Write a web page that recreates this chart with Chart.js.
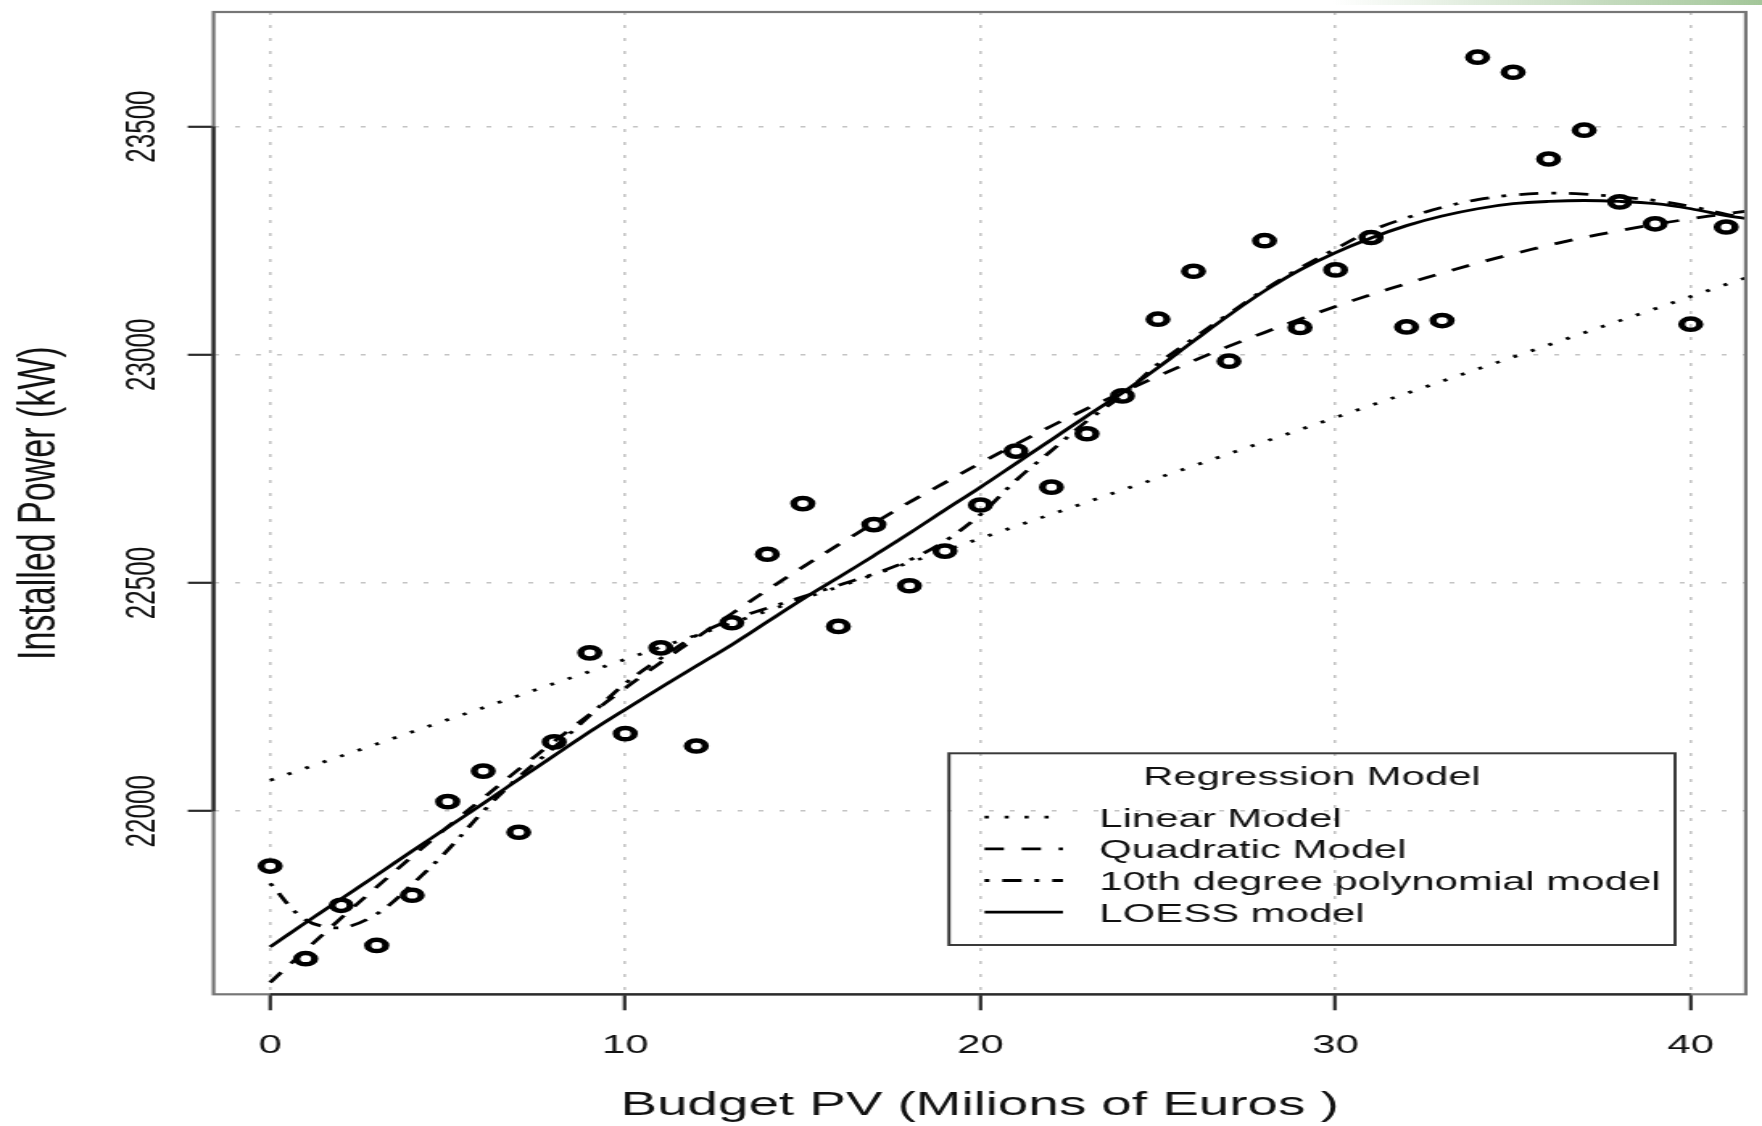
<!DOCTYPE html>
<html>
<head>
<meta charset="utf-8">
<title>Installed Power vs Budget PV</title>
<script src="https://cdn.jsdelivr.net/npm/chart.js@4.4.1/dist/chart.umd.min.js"></script>
<style>
  html, body { margin: 0; padding: 0; background: #ffffff; overflow: hidden; }
  /* the chart is drawn on a narrow canvas and widened horizontally */
  #stage { position: absolute; left: 0; top: 0; width: 1094px; height: 1126px;
           transform-origin: 0 0; transform: scaleX(1.6106); }
  #stage canvas { display: block; }
  .band { position: absolute; top: 0; right: 0; width: 430px; height: 5px;
          background: linear-gradient(to right, rgba(255,255,255,0), #a3c699); }
</style>
</head>
<body>
<div id="stage"><canvas id="chart" width="1094" height="1126" style="width:1094px;height:1126px"></canvas></div>
<div class="band"></div>
<script>
// Observations: budget (millions of euros) and installed power (kW)
const budget = [0, 1, 2, 3, 4, 5, 6, 7, 8, 9, 10, 11, 12, 13, 14, 15, 16, 17, 18, 19, 20,
                21, 22, 23, 24, 25, 26, 27, 28, 29, 30, 31, 32, 33, 34, 35, 36, 37, 38, 39, 40, 41];
const installedPower = [21880, 21677, 21794, 21706, 21816, 22021, 22088, 21954, 22152, 22347, 22170,
                        22358, 22143, 22413, 22563, 22674, 22405, 22628, 22494, 22570, 22671,
                        22789, 22710, 22827, 22910, 23078, 23183, 22986, 23250, 23060, 23186,
                        23257, 23061, 23075, 23652, 23619, 23429, 23492, 23335, 23287, 23067, 23280];

// Fitted regression curves, sampled along the budget axis
const linearX = [0, 41.6];
const linearModel = [22068, 23170];

const curveX = [0, 1, 2, 3, 4, 5, 6, 7, 8, 9, 10, 11, 12, 13, 14, 15, 16, 17, 18, 19, 20,
                21, 22, 23, 24, 25, 26, 27, 28, 29, 30, 31, 32, 33, 34, 35, 36, 37, 38, 39, 40, 41, 41.6];
const quadraticModel = [21625, 21696, 21766, 21834, 21901, 21966, 22029, 22092, 22153, 22212, 22270,
                        22326, 22380, 22433, 22485, 22535, 22584, 22631, 22677, 22720, 22763,
                        22804, 22844, 22882, 22918, 22953, 22987, 23019, 23049, 23078, 23106,
                        23132, 23156, 23179, 23201, 23221, 23240, 23257, 23272, 23286, 23298, 23309, 23315];
const poly10Model = [21842, 21762, 21745, 21775, 21840, 21915, 22000, 22075, 22140, 22210, 22280,
                     22335, 22385, 22420, 22445, 22470, 22495, 22520, 22550, 22592, 22650,
                     22725, 22790, 22855, 22912, 22980, 23036, 23090, 23143, 23190, 23232,
                     23272, 23300, 23323, 23340, 23350, 23354, 23352, 23346, 23338, 23325, 23308, 23300];
const loessModel = [21703, 21756, 21808, 21860, 21913, 21965, 22017, 22070, 22122, 22174, 22223,
                    22271, 22318, 22365, 22415, 22465, 22512, 22560, 22609, 22660, 22710,
                    22762, 22814, 22866, 22917, 22972, 23030, 23087, 23140, 23186, 23224,
                    23256, 23283, 23304, 23320, 23331, 23336, 23338, 23336, 23331, 23320, 23305, 23298];

// Axes
const xTicks = [0, 10, 20, 30, 40];
const xTickLabels = ['0', '10', '20', '30', '40'];
const yTicks = [22000, 22500, 23000, 23500];
const yTickLabels = ['22000', '22500', '23000', '23500'];
const xTitle = 'Budget PV (Milions of Euros )';
const yTitle = 'Installed Power (kW)';

// Legend
const legendTitle = 'Regression Model';
const modelNames = ['Linear Model', 'Quadratic Model', '10th degree polynomial model', 'LOESS model'];

const FONT = '"Liberation Sans", Arial, Helvetica, sans-serif';
Chart.defaults.font.family = FONT;
Chart.defaults.color = '#111';

const pairs = (xs, ys) => xs.map((x, i) => ({ x: x, y: ys[i] }));

const curveStyle = (dash) => ({
  type: 'line', showLine: true, pointRadius: 0, pointHoverRadius: 0,
  borderColor: '#000', borderWidth: 2.8, borderDash: dash, tension: 0.35,
  fill: false, borderCapStyle: 'butt', order: 1
});

const datasets = [
  Object.assign({ label: modelNames[0], data: pairs(linearX, linearModel) }, curveStyle([2.6, 9.8]), { tension: 0 }),
  Object.assign({ label: modelNames[1], data: pairs(curveX, quadraticModel) }, curveStyle([12, 11])),
  Object.assign({ label: modelNames[2], data: pairs(curveX, poly10Model) }, curveStyle([3, 8, 12, 8])),
  Object.assign({ label: modelNames[3], data: pairs(curveX, loessModel) }, curveStyle([])),
  {
    type: 'scatter', label: 'observed', data: pairs(budget, installedPower),
    pointStyle: 'circle', pointRadius: 5.6, pointBorderWidth: 4.5,
    borderColor: '#000', backgroundColor: 'rgba(0,0,0,0)', showLine: false, order: 2
  }
];

// Box, axis lines, vertical y labels and the legend box
const decor = {
  id: 'decor',
  afterDraw(chart) {
    const { ctx, chartArea: a, scales: { x, y } } = chart;
    ctx.save();
    ctx.setLineDash([]);
    ctx.strokeStyle = '#767676';
    ctx.lineWidth = 2.2;
    ctx.strokeRect(a.left, a.top, a.right - a.left, a.bottom - a.top);

    ctx.strokeStyle = '#2b2b2b';
    ctx.beginPath();
    ctx.moveTo(x.getPixelForValue(xTicks[0]), a.bottom);
    ctx.lineTo(x.getPixelForValue(xTicks[xTicks.length - 1]), a.bottom);
    ctx.moveTo(a.left, y.getPixelForValue(yTicks[0]));
    ctx.lineTo(a.left, y.getPixelForValue(yTicks[yTicks.length - 1]));
    ctx.stroke();

    ctx.fillStyle = '#111';
    ctx.font = '26px ' + FONT;
    ctx.textAlign = 'center';
    ctx.textBaseline = 'alphabetic';
    yTicks.forEach((v, i) => {
      ctx.save();
      ctx.translate(96, y.getPixelForValue(v));
      ctx.rotate(-Math.PI / 2);
      ctx.fillText(yTickLabels[i], 0, 0);
      ctx.restore();
    });

    // legend
    const box = { left: 589.2, top: 753.3, right: 1040, bottom: 945 };
    ctx.strokeStyle = '#3a3a3a';
    ctx.lineWidth = 2;
    ctx.strokeRect(box.left, box.top, box.right - box.left, box.bottom - box.top);
    ctx.fillStyle = '#111';
    ctx.textAlign = 'center';
    ctx.fillText(legendTitle, (box.left + box.right) / 2, 785);
    const baselines = [826.7, 858.3, 890, 921.7];
    ctx.textAlign = 'left';
    chart.data.datasets.slice(0, 4).forEach((ds, i) => {
      const yy = baselines[i] - 9.5;
      ctx.save();
      ctx.strokeStyle = ds.borderColor;
      ctx.lineWidth = ds.borderWidth;
      ctx.lineCap = 'butt';
      ctx.setLineDash(ds.borderDash);
      ctx.beginPath();
      ctx.moveTo(611.3, yy);
      ctx.lineTo(660, yy);
      ctx.stroke();
      ctx.restore();
      ctx.fillText(ds.label, 682.6, baselines[i]);
    });
    ctx.restore();
  }
};

new Chart(document.getElementById('chart'), {
  data: { datasets: datasets },
  options: {
    responsive: false,
    animation: false,
    devicePixelRatio: 1,
    layout: { padding: { left: 0, right: 7.9, top: 12, bottom: 0 } },
    plugins: { legend: { display: false }, tooltip: { enabled: false } },
    scales: {
      x: {
        type: 'linear', position: 'bottom', min: -1.593, max: 41.55,
        afterBuildTicks: s => { s.ticks = xTicks.map(v => ({ value: v })); },
        afterFit: s => { s.height = 131.7; },
        ticks: {
          callback: v => xTickLabels[xTicks.indexOf(v)],
          font: { size: 26 }, color: '#111', padding: 20, maxRotation: 0, autoSkip: false
        },
        grid: {
          color: '#c4c4c4', lineWidth: 1.6, tickLength: 16,
          tickColor: '#2b2b2b', tickWidth: 2.2, tickBorderDash: []
        },
        border: { display: false, dash: [3, 10] },
        title: { display: true, text: xTitle, font: { size: 34 }, color: '#111', padding: { top: 0, bottom: 0 } }
      },
      y: {
        type: 'linear', position: 'left', min: 21599, max: 23751,
        afterBuildTicks: s => { s.ticks = yTicks.map(v => ({ value: v })); },
        afterFit: s => { s.width = 132.6; },
        ticks: { display: false },
        grid: {
          color: '#c4c4c4', lineWidth: 1.6, tickLength: 16,
          tickColor: '#2b2b2b', tickWidth: 2.2, tickBorderDash: []
        },
        border: { display: false, dash: [3, 10] },
        title: { display: true, text: yTitle, font: { size: 34 }, color: '#111', padding: { top: 3.8, bottom: 0 } }
      }
    }
  },
  plugins: [decor]
});
</script>
</body>
</html>
